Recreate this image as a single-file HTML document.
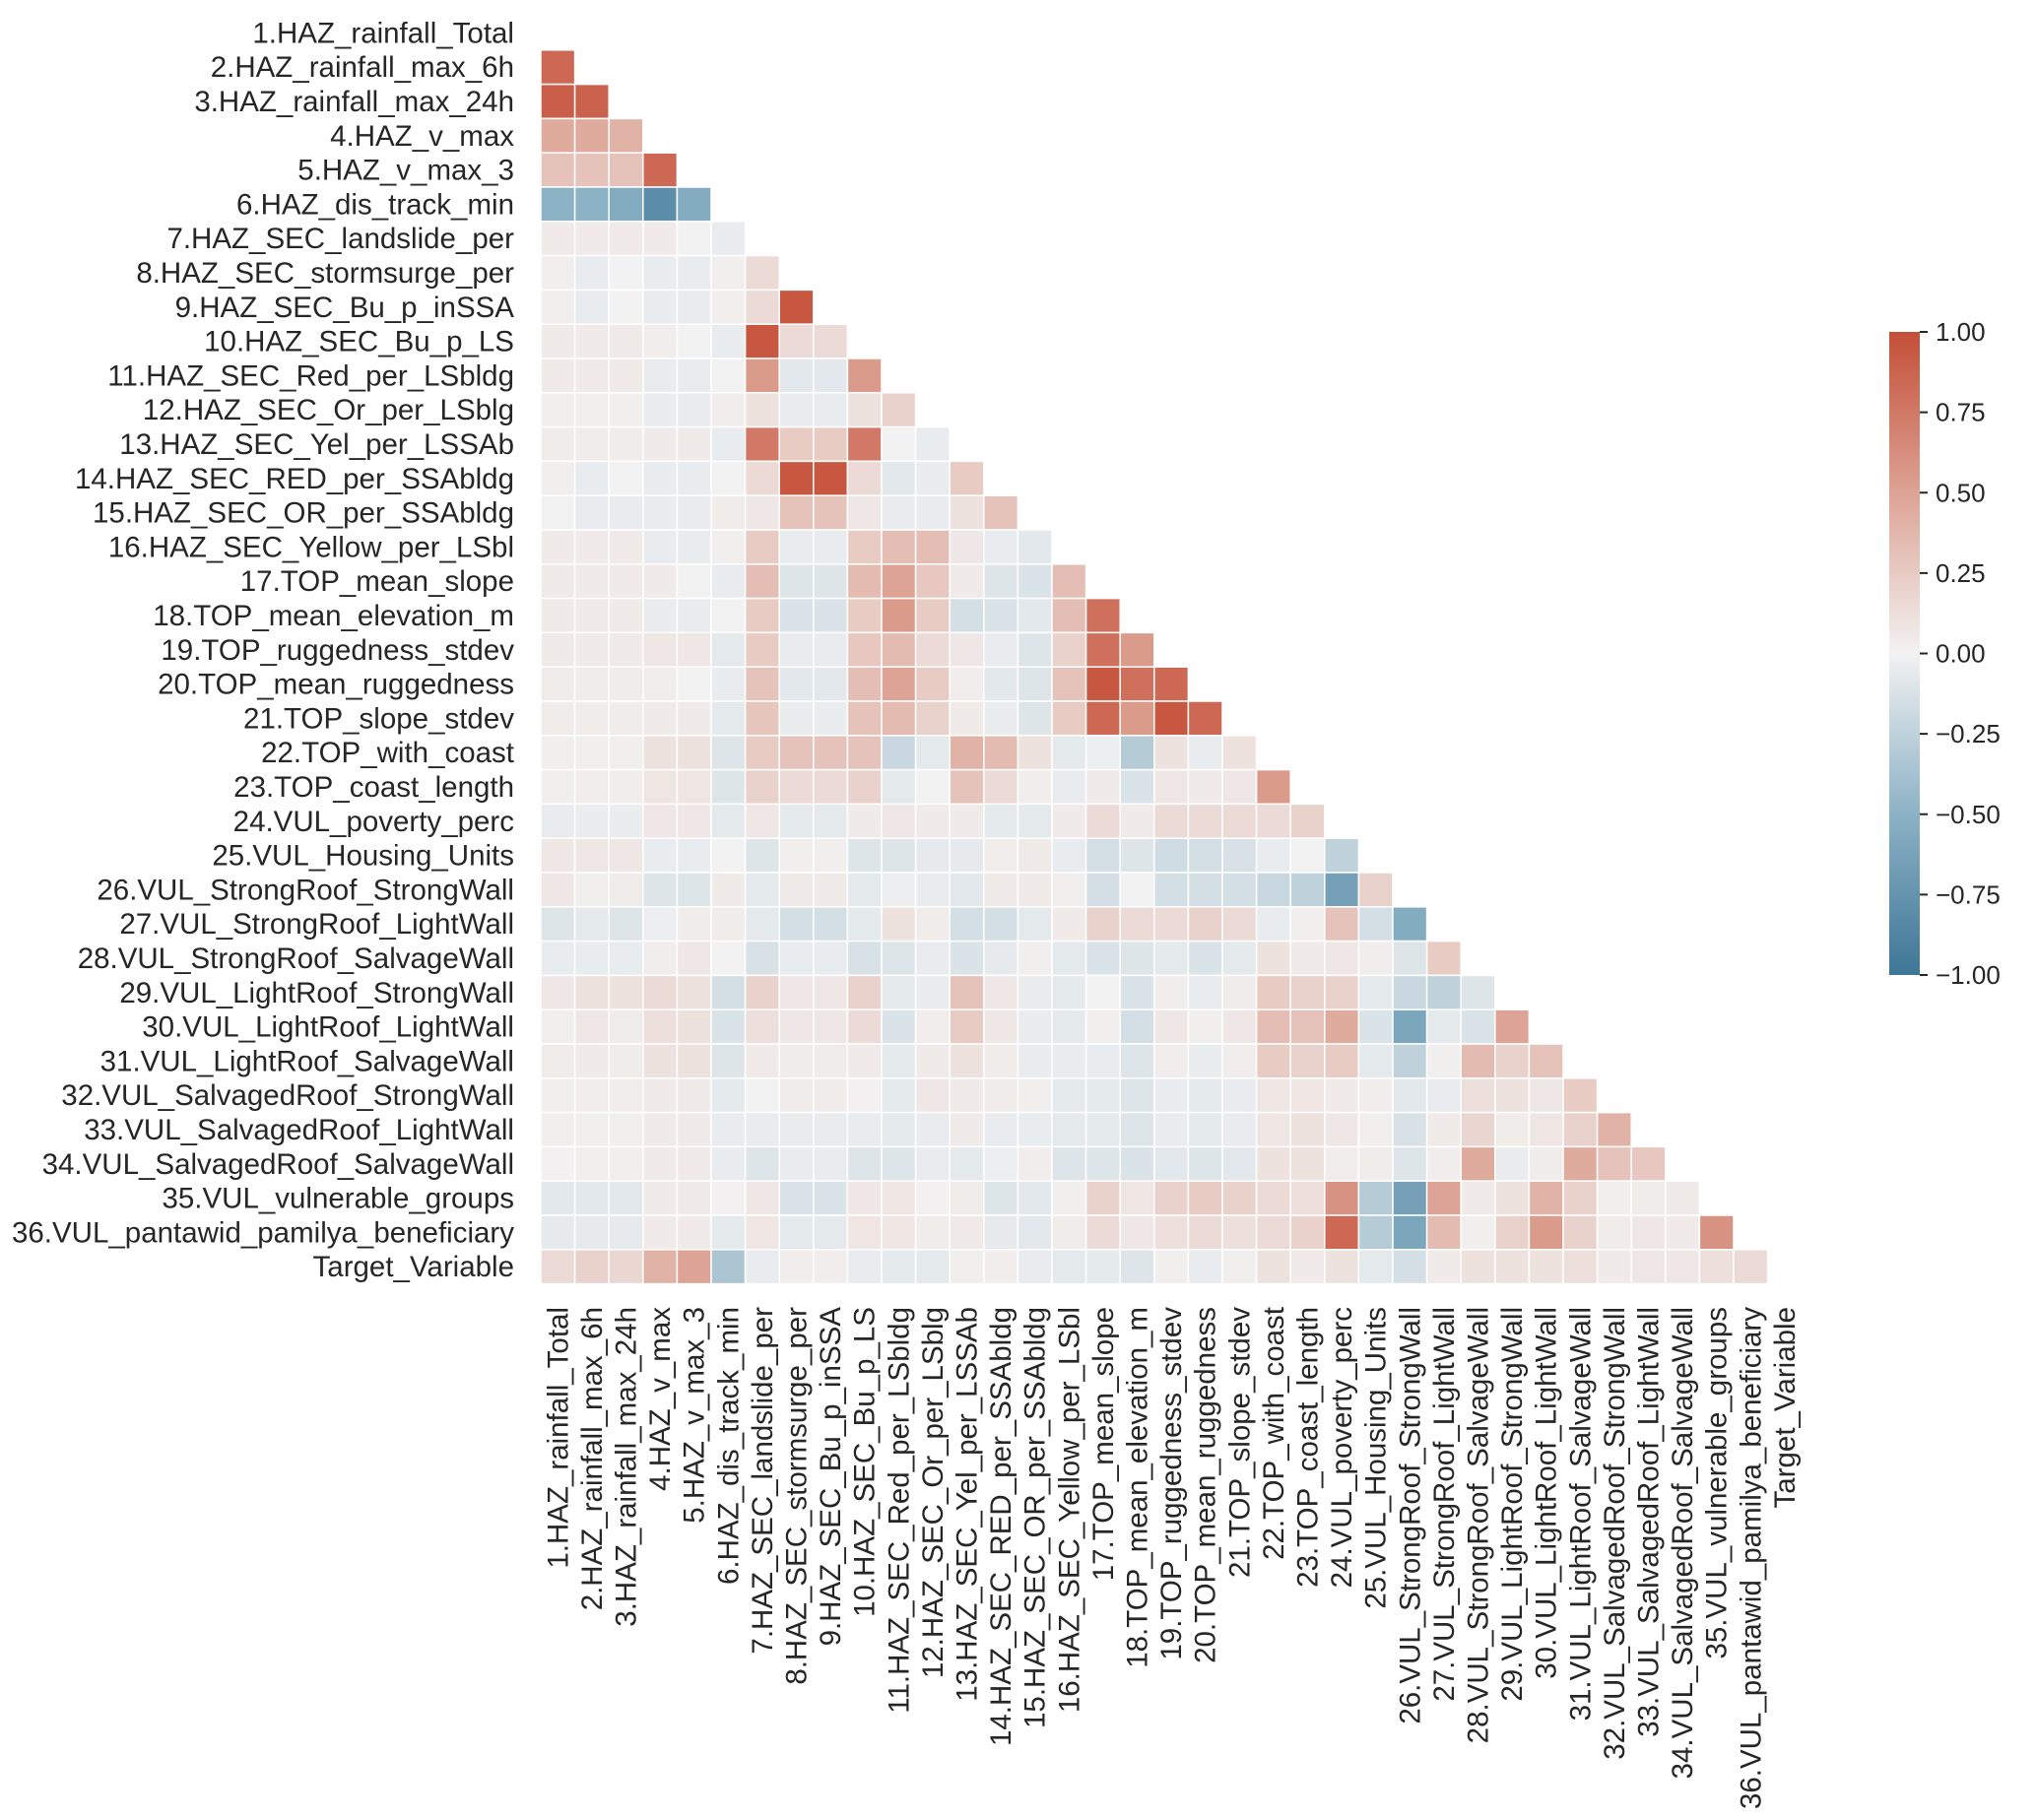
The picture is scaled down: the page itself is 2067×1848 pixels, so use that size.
<!DOCTYPE html>
<html><head><meta charset="utf-8">
<style>
html,body{margin:0;padding:0;background:#fff;}
svg{display:block;font-family:"Liberation Sans",Arial,sans-serif;}
</style></head>
<body>
<svg id="chart" width="2067" height="1848" viewBox="0 0 2067 1848" xmlns="http://www.w3.org/2000/svg">
<defs>
<linearGradient id="cbgrad" x1="0" y1="1" x2="0" y2="0">
<stop offset="0" stop-color="rgb(62,118,150)"/>
<stop offset="0.25" stop-color="rgb(140,178,197)"/>
<stop offset="0.5" stop-color="rgb(242,242,242)"/>
<stop offset="0.75" stop-color="rgb(221,163,148)"/>
<stop offset="1" stop-color="rgb(196,78,55)"/>
</linearGradient>
</defs>
<g id="cells"></g>
<g id="ylabels"></g>
<g id="xlabels"></g>
<g id="cbar"></g>
</svg>
<script>
const labels = ["1.HAZ_rainfall_Total","2.HAZ_rainfall_max_6h","3.HAZ_rainfall_max_24h","4.HAZ_v_max","5.HAZ_v_max_3","6.HAZ_dis_track_min","7.HAZ_SEC_landslide_per","8.HAZ_SEC_stormsurge_per","9.HAZ_SEC_Bu_p_inSSA","10.HAZ_SEC_Bu_p_LS","11.HAZ_SEC_Red_per_LSbldg","12.HAZ_SEC_Or_per_LSblg","13.HAZ_SEC_Yel_per_LSSAb","14.HAZ_SEC_RED_per_SSAbldg","15.HAZ_SEC_OR_per_SSAbldg","16.HAZ_SEC_Yellow_per_LSbl","17.TOP_mean_slope","18.TOP_mean_elevation_m","19.TOP_ruggedness_stdev","20.TOP_mean_ruggedness","21.TOP_slope_stdev","22.TOP_with_coast","23.TOP_coast_length","24.VUL_poverty_perc","25.VUL_Housing_Units","26.VUL_StrongRoof_StrongWall","27.VUL_StrongRoof_LightWall","28.VUL_StrongRoof_SalvageWall","29.VUL_LightRoof_StrongWall","30.VUL_LightRoof_LightWall","31.VUL_LightRoof_SalvageWall","32.VUL_SalvagedRoof_StrongWall","33.VUL_SalvagedRoof_LightWall","34.VUL_SalvagedRoof_SalvageWall","35.VUL_vulnerable_groups","36.VUL_pantawid_pamilya_beneficiary","Target_Variable"];
const corrRows = [
[],
[0.85],
[0.9,0.88],
[0.45,0.45,0.4],
[0.3,0.3,0.3,0.85],
[-0.5,-0.5,-0.55,-0.8,-0.55],
[0.05,0.05,0.05,0.05,0.0,-0.05],
[0.02,-0.05,0,-0.05,-0.05,0.02,0.15],
[0.02,-0.05,0,-0.05,-0.05,0.02,0.15,0.95],
[0.05,0.05,0.05,0.03,0,-0.05,0.95,0.15,0.15],
[0.05,0.05,0.05,-0.05,-0.05,0,0.55,-0.08,-0.08,0.55],
[0.02,0.02,0.02,-0.05,-0.05,0.03,0.1,-0.05,-0.05,0.1,0.2],
[0.04,0.04,0.04,0.05,0.05,-0.05,0.75,0.25,0.25,0.75,0,-0.05],
[0.02,-0.05,0,-0.05,-0.05,0,0.15,0.95,0.95,0.15,-0.08,-0.05,0.25],
[0,-0.05,-0.05,-0.05,-0.05,0.04,0.07,0.3,0.3,0.07,-0.05,-0.05,0.1,0.3],
[0.05,0.05,0.05,-0.05,-0.05,0.02,0.25,-0.05,-0.05,0.25,0.33,0.33,0.07,-0.05,-0.08],
[0.05,0.05,0.05,0.05,0,-0.05,0.33,-0.1,-0.1,0.35,0.5,0.27,0.05,-0.1,-0.12,0.33],
[0.05,0.05,0.05,-0.05,-0.05,0,0.25,-0.12,-0.12,0.25,0.55,0.25,-0.15,-0.12,-0.08,0.33,0.8],
[0.05,0.05,0.05,0.07,0.07,-0.07,0.25,-0.05,-0.05,0.27,0.35,0.15,0.07,-0.05,-0.1,0.2,0.8,0.55],
[0.04,0.04,0.04,0.03,0.0,-0.05,0.3,-0.08,-0.08,0.33,0.5,0.25,0.03,-0.08,-0.1,0.3,0.95,0.8,0.85],
[0.04,0.04,0.04,0.05,0.05,-0.07,0.28,-0.04,-0.04,0.3,0.35,0.2,0.05,-0.04,-0.1,0.25,0.85,0.55,0.95,0.85],
[0.02,0.02,0.02,0.1,0.1,-0.1,0.25,0.3,0.3,0.3,-0.2,-0.07,0.4,0.35,0.1,-0.07,-0.03,-0.3,0.1,-0.05,0.1],
[0.02,0.03,0.03,0.08,0.08,-0.1,0.2,0.15,0.15,0.2,-0.07,0,0.3,0.15,0.03,-0.05,0.05,-0.12,0.07,0.05,0.07,0.55],
[-0.05,-0.04,-0.04,0.07,0.07,-0.07,0.07,-0.07,-0.07,0.05,0.07,0.05,0.05,-0.07,-0.07,0.05,0.15,0.05,0.15,0.15,0.15,0.15,0.2],
[0.07,0.07,0.07,-0.05,-0.05,0,-0.1,0.02,0.02,-0.1,-0.1,-0.06,-0.06,0.03,0.06,-0.05,-0.15,-0.1,-0.17,-0.15,-0.13,-0.05,0.0,-0.25],
[0.07,0.02,0.04,-0.1,-0.1,0.05,-0.07,0.05,0.05,-0.07,-0.03,-0.05,-0.08,0.05,0.05,0.02,-0.15,0.0,-0.15,-0.15,-0.15,-0.2,-0.25,-0.65,0.2],
[-0.1,-0.07,-0.1,-0.03,0.04,0.04,-0.07,-0.15,-0.15,-0.07,0.1,0.04,-0.15,-0.15,-0.07,0.05,0.2,0.15,0.15,0.2,0.15,-0.05,0.02,0.3,-0.15,-0.55],
[-0.05,-0.05,-0.05,0.03,0.07,0.0,-0.13,-0.05,-0.05,-0.13,-0.1,-0.05,-0.12,-0.06,0.02,-0.07,-0.12,-0.1,-0.07,-0.12,-0.07,0.1,0.05,0.07,0.03,-0.1,0.25],
[0.07,0.1,0.1,0.15,0.1,-0.15,0.2,0.07,0.07,0.2,-0.07,-0.05,0.3,0.07,-0.05,-0.07,0,-0.12,0.03,-0.05,0.04,0.25,0.2,0.2,-0.07,-0.2,-0.25,-0.1],
[0.02,0.07,0.04,0.12,0.1,-0.12,0.12,0.07,0.07,0.15,-0.12,0.03,0.25,0.07,-0.05,-0.07,0.02,-0.15,0.07,0.02,0.07,0.33,0.3,0.45,-0.12,-0.6,-0.07,-0.12,0.5],
[0.04,0.05,0.04,0.1,0.1,-0.1,0.05,0.04,0.04,0.05,-0.07,0.05,0.1,0.04,-0.05,-0.05,-0.05,-0.1,0.03,-0.04,0.03,0.25,0.2,0.25,-0.07,-0.25,0.02,0.35,0.2,0.3],
[0.02,0.03,0.03,0.05,0.05,-0.07,0,0.04,0.04,0.01,-0.07,0.07,0.05,0.04,0.02,-0.07,-0.07,-0.1,-0.05,-0.07,-0.05,0.08,0.08,0.05,0.03,-0.08,-0.05,0.12,0.1,0.07,0.25],
[0.02,0.02,0.02,0.05,0.05,-0.05,-0.05,-0.05,-0.05,-0.05,-0.07,-0.05,0.05,-0.05,-0.05,-0.07,-0.07,-0.1,-0.05,-0.07,-0.05,0.08,0.1,0.07,0.02,-0.13,0.05,0.18,0.04,0.08,0.2,0.4],
[0.01,0.02,0.02,0.05,0.05,-0.05,-0.1,-0.05,-0.05,-0.1,-0.1,-0.05,-0.07,-0.03,0.03,-0.1,-0.1,-0.12,-0.08,-0.1,-0.08,0.1,0.1,0.03,0.04,-0.1,0.03,0.45,-0.04,0.04,0.45,0.3,0.27],
[-0.08,-0.08,-0.08,0.05,0.05,0.01,0.07,-0.12,-0.12,0.07,0.08,0.01,0.04,-0.1,-0.08,0.02,0.2,0.08,0.2,0.25,0.2,0.15,0.12,0.6,-0.3,-0.65,0.5,0.05,0.1,0.4,0.2,0.02,0.04,0.05],
[-0.06,-0.06,-0.06,0.05,0.05,-0.07,0.08,-0.07,-0.07,0.08,0.08,0.04,0.06,-0.06,-0.08,0.04,0.15,0.07,0.12,0.15,0.12,0.15,0.2,0.85,-0.3,-0.6,0.35,0.02,0.2,0.55,0.2,0.04,0.07,0.05,0.6],
[0.15,0.2,0.17,0.4,0.5,-0.35,-0.05,0.03,0.03,-0.05,-0.07,-0.07,0.02,0.03,-0.05,-0.07,-0.07,-0.1,0.02,-0.05,0.02,0.1,0.05,0.1,-0.07,-0.15,0.05,0.1,0.1,0.1,0.12,0.05,0.07,0.07,0.12,0.15]
];
const cbTicks = [1.0,0.75,0.5,0.25,0,-0.25,-0.5,-0.75,-1.0];
const cbTickLabels = ["1.00","0.75","0.50","0.25","0.00","\u22120.25","\u22120.50","\u22120.75","\u22121.00"];

const NS = "http://www.w3.org/2000/svg";
const gridLeft = 549, gridTop = 16, cw = 34.6, ch = 34.8;
const xPos = i => gridLeft + i * cw;
const yPos = i => gridTop + i * ch;
const cbX = 1918, cbW = 31, cbTop = 337, cbBot = 990;
const cbY = v => cbBot - (v + 1) / 2 * (cbBot - cbTop);

const stops = [[-1,[62,118,150]],[-0.5,[140,178,197]],[0,[242,242,242]],[0.5,[221,163,148]],[1,[196,78,55]]];
function color(v){
  v = Math.max(-1, Math.min(1, v));
  for (let k = 0; k < stops.length - 1; k++) {
    const a = stops[k], b = stops[k+1];
    if (v <= b[0]) {
      const t = (v - a[0]) / (b[0] - a[0]);
      const c = a[1].map((x, j) => Math.round(x + (b[1][j] - x) * t));
      return "rgb(" + c.join(",") + ")";
    }
  }
  return "rgb(196,78,55)";
}

const cells = document.getElementById("cells");
corrRows.forEach((row, i) => {
  row.forEach((v, j) => {
    if (j >= i) return;
    const r = document.createElementNS(NS, "rect");
    r.setAttribute("x", xPos(j));
    r.setAttribute("y", yPos(i));
    r.setAttribute("width", cw);
    r.setAttribute("height", ch);
    r.setAttribute("fill", color(v));
    r.setAttribute("stroke", "#ffffff");
    r.setAttribute("stroke-width", "1.5");
    
    
    cells.appendChild(r);
  });
});

const yl = document.getElementById("ylabels");
const xl = document.getElementById("xlabels");
labels.forEach((lab, i) => {
  const t = document.createElementNS(NS, "text");
  t.setAttribute("x", 522);
  t.setAttribute("y", yPos(i) + ch / 2 + 10);
  t.setAttribute("text-anchor", "end");
  t.setAttribute("font-size", "29.5");
  t.setAttribute("fill", "#262626");
  t.textContent = lab;
  
  
  yl.appendChild(t);

  const u = document.createElementNS(NS, "text");
  const cx = xPos(i) + cw / 2 + 10, cy = 1327;
  u.setAttribute("x", cx);
  u.setAttribute("y", cy);
  u.setAttribute("text-anchor", "end");
  u.setAttribute("font-size", "29.5");
  u.setAttribute("fill", "#262626");
  u.setAttribute("transform", "rotate(-90 " + cx + " " + cy + ")");
  u.textContent = lab;
  
  
  xl.appendChild(u);
});

const cb = document.getElementById("cbar");
const bar = document.createElementNS(NS, "rect");
bar.setAttribute("x", cbX);
bar.setAttribute("y", cbTop);
bar.setAttribute("width", cbW);
bar.setAttribute("height", cbBot - cbTop);
bar.setAttribute("fill", "url(#cbgrad)");


cb.appendChild(bar);
cbTicks.forEach((v, k) => {
  const y = cbY(v);
  const ln = document.createElementNS(NS, "line");
  ln.setAttribute("x1", cbX + cbW);
  ln.setAttribute("x2", cbX + cbW + 8);
  ln.setAttribute("y1", y);
  ln.setAttribute("y2", y);
  ln.setAttribute("stroke", "#262626");
  ln.setAttribute("stroke-width", "2");
  
  
  cb.appendChild(ln);
  const t = document.createElementNS(NS, "text");
  t.setAttribute("x", cbX + cbW + 16);
  t.setAttribute("y", y + 9);
  t.setAttribute("font-size", "26");
  t.setAttribute("fill", "#262626");
  t.textContent = cbTickLabels[k];
  
  
  cb.appendChild(t);
});
</script>
</body></html>
